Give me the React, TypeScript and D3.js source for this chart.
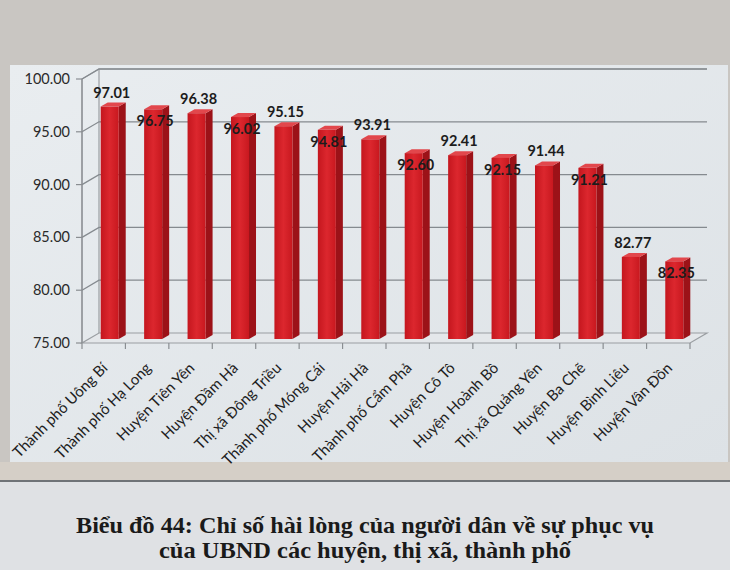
import React from 'react';
import * as d3 from 'd3';

const categories = [
  'Thành phố Uông Bí',
  'Thành phố Hạ Long',
  'Huyện Tiên Yên',
  'Huyện Đầm Hà',
  'Thị xã Đông Triều',
  'Thành phố Móng Cái',
  'Huyện Hải Hà',
  'Thành phố Cẩm Phả',
  'Huyện Cô Tô',
  'Huyện Hoành Bồ',
  'Thị xã Quảng Yên',
  'Huyện Ba Chẽ',
  'Huyện Bình Liêu',
  'Huyện Vân Đồn'
];
const values = [97.01, 96.75, 96.38, 96.02, 95.15, 94.81, 93.91, 92.6, 92.41, 92.15, 91.44, 91.21, 82.77, 82.35];
const yTicks = [75, 80, 85, 90, 95, 100];
const captionLines = [
  'Biểu đồ 44: Chỉ số hài lòng của người dân về sự phục vụ',
  'của UBND các huyện, thị xã, thành phố'
];
const captionWidths = [578, 412];

const W = 730;
const H = 570;
// 3D depth of the plot box
const DX = 17;
const DY = -10;
// bar offset into depth and bar thickness
const BX = 6;
const BY = -4;
const SX = 7;
const SY = -4;

const App: React.FC = () => {
  const x = d3.scaleBand<string>()
    .domain(categories)
    .range([82, 690])
    .paddingInner(0.585)
    .paddingOuter(0.2925);
  const y = d3.scaleLinear().domain([75, 100]).range([343, 79]);
  const step = x.step();
  const left = x.range()[0];
  const right = x.range()[1];
  const base = y(75);
  const top = y(100);

  const pts = (p: [number, number][]) => p.map(d => d.join(',')).join(' ');

  return (
    <div style={{ position: 'absolute', left: 0, top: 0 }}>
      <svg width={W} height={H} style={{ display: 'block' }}>
        <defs>
          <linearGradient id="panel" x1="0" y1="0" x2="1" y2="1">
            <stop offset="0" stopColor="#e9edf0" />
            <stop offset="1" stopColor="#dde2e6" />
          </linearGradient>
          <linearGradient id="bar" x1="0" y1="0" x2="1" y2="0">
            <stop offset="0" stopColor="#c4161e" />
            <stop offset="0.5" stopColor="#dc272e" />
            <stop offset="1" stopColor="#c8181f" />
          </linearGradient>
        </defs>

        {/* photo background */}
        <rect x={0} y={0} width={W} height={H} fill="#c9c6c2" />
        <rect x={10} y={65} width={718} height={397} fill="url(#panel)" />
        <rect x={0} y={462} width={W} height={18} fill="#d5cfc7" />
        <rect x={0} y={480} width={W} height={2} fill="#6f7377" />
        <rect x={0} y={482} width={W} height={88} fill="#dfe1e4" />

        {/* floor */}
        <polygon
          points={pts([[left, base], [right, base], [right + DX, base + DY], [left + DX, base + DY]])}
          fill="#e4e7ea"
          stroke="#9a9ea2"
          strokeWidth={1.2}
        />
        {/* back wall frame */}
        <polyline
          points={pts([[left, base], [left, top], [left + DX, top + DY], [right + DX, top + DY]])}
          fill="none"
          stroke="#9a9ea2"
          strokeWidth={1.2}
        />
        <line x1={left + DX} x2={left + DX} y1={top + DY} y2={base + DY} stroke="#9a9ea2" strokeWidth={1.2} />

        {/* gridlines */}
        {yTicks.slice(1).map(t => (
          <polyline
            key={t}
            points={pts([[left, y(t)], [left + DX, y(t) + DY], [right + DX, y(t) + DY]])}
            fill="none"
            stroke="#858a8f"
            strokeWidth={1.3}
          />
        ))}

        {/* y axis */}
        <line x1={left} x2={left} y1={top} y2={base} stroke="#8a8e92" strokeWidth={1.2} />
        {yTicks.map(t => (
          <g key={t}>
            <line x1={left - 6} x2={left} y1={y(t)} y2={y(t)} stroke="#8a8e92" strokeWidth={1.2} />
            <text
              x={left - 12}
              y={y(t)}
              dy="0.35em"
              textAnchor="end"
              fontFamily="Lato, 'Open Sans', sans-serif"
              fontSize={14.5}
              fill="#2a2a2a"
            >
              {t.toFixed(2)}
            </text>
          </g>
        ))}

        {/* category ticks */}
        {d3.range(categories.length + 1).map(i => (
          <line
            key={i}
            x1={left + i * step}
            x2={left + i * step}
            y1={base}
            y2={base + 6}
            stroke="#8a8e92"
            strokeWidth={1.2}
          />
        ))}

        {/* bars */}
        {categories.map((c, i) => {
          const x0 = (x(c) || 0) + BX;
          const w = x.bandwidth();
          const yt = y(values[i]) + BY;
          const yb = base + BY;
          return (
            <g key={c}>
              <polygon
                points={pts([[x0 + w, yt], [x0 + w + SX, yt + SY], [x0 + w + SX, yb + SY], [x0 + w, yb]])}
                fill="#9c1218"
              />
              <polygon
                points={pts([[x0, yt], [x0 + w, yt], [x0 + w + SX, yt + SY], [x0 + SX, yt + SY]])}
                fill="#e2474c"
              />
              <rect x={x0} y={yt} width={w} height={yb - yt} fill="url(#bar)" />
            </g>
          );
        })}

        {/* value labels */}
        {categories.map((c, i) => {
          const cx = (x(c) || 0) + BX + x.bandwidth() / 2 + 2;
          const yt = y(values[i]) + BY;
          const ly = i % 2 === 0 ? yt - 9 : yt + 17;
          return (
            <text
              key={c}
              x={cx}
              y={ly}
              textAnchor="middle"
              fontFamily="Lato, 'Open Sans', sans-serif"
              fontWeight="bold"
              fontSize={14.5}
              fill="#1c1c1c"
            >
              {values[i].toFixed(2)}
            </text>
          );
        })}

        {/* category labels */}
        {categories.map(c => {
          const cx = (x(c) || 0) + x.bandwidth() / 2;
          return (
            <text
              key={c}
              transform={`translate(${cx - 3},${base + 18}) rotate(-45)`}
              dy="0.75em"
              textAnchor="end"
              fontFamily="Lato, 'Open Sans', sans-serif"
              fontSize={15}
              fill="#1e1e1e"
            >
              {c}
            </text>
          );
        })}

        {/* caption */}
        {captionLines.map((t, i) => (
          <text
            key={i}
            x={W / 2}
            y={533 + i * 25}
            textAnchor="middle"
            textLength={captionWidths[i]}
            lengthAdjust="spacingAndGlyphs"
            fontFamily="'Liberation Serif', 'DejaVu Serif', serif"
            fontWeight="bold"
            fontSize={23}
            fill="#1a1a1a"
          >
            {t}
          </text>
        ))}
      </svg>
    </div>
  );
};

export default App;
